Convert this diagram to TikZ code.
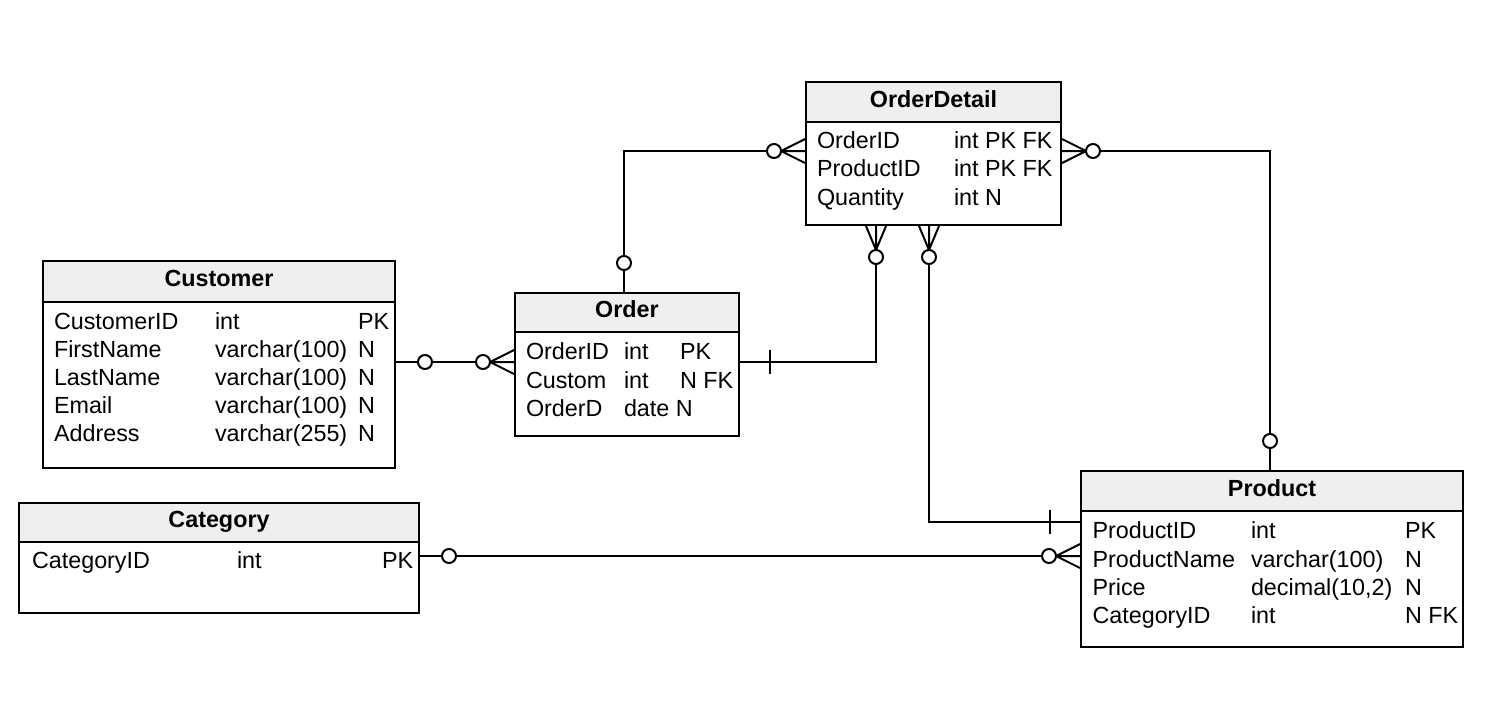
\documentclass[tikz,border=0pt]{standalone}
\usepackage{fontspec}
\setmainfont{Liberation Sans}
\usetikzlibrary{fit,calc}
\definecolor{hdr}{HTML}{EFEFEF}
\begin{document}
\begin{tikzpicture}[x=0.75pt,y=-0.75pt,line width=1.5pt,
  tbl/.style={draw,inner sep=0pt,line width=1.5pt},
  hd/.style={draw,fill=hdr,inner sep=0pt,line width=1.5pt},
  ttl/.style={font=\fontsize{17.5}{21}\selectfont\bfseries,inner sep=0pt,text height=12.5pt,text depth=0pt,yshift=2.2pt},
  fld/.style={font=\fontsize{17.5}{21}\selectfont,inner sep=0pt,text height=12.5pt,text depth=0pt,anchor=west},
  crowo/.pic={\draw (24,0) -- (0,-12) (24,0) -- (0,0) (24,0) -- (0,12);
              \draw[fill=white] (31,0) circle[radius=7];},
  crowv/.pic={\draw (24,0) -- (0,-10) (24,0) -- (0,0) (24,0) -- (0,10);
              \draw[fill=white] (31,0) circle[radius=7];},
  circo/.pic={\draw[fill=white] (29,0) circle[radius=7];},
  tickmark/.pic={\draw (30,-12) -- (30,12);}]
\useasboundingbox (0,0) rectangle (1494,718);
\fill[white] (0,0) rectangle (1494,718);

% Customer
\node[tbl,fit={(43,261)(395,468)}] (cust) {};
\node[hd,fit={(43,261)(395,302)}] (custh) {};
\node[ttl] (custt) at (custh.center) {Customer};
\node[fld] (c1a) at (53,321.5) {CustomerID};
\node[fld] (c1b) at (214,321.5) {int};
\node[fld] (c1c) at (357,321.5) {PK};
\node[fld] (c2a) at (53,349.5) {FirstName};
\node[fld] (c2b) at (214,349.5) {varchar(100)};
\node[fld] (c2c) at (357,349.5) {N};
\node[fld] (c3a) at (53,377.5) {LastName};
\node[fld] (c3b) at (214,377.5) {varchar(100)};
\node[fld] (c3c) at (357,377.5) {N};
\node[fld] (c4a) at (53,405.5) {Email};
\node[fld] (c4b) at (214,405.5) {varchar(100)};
\node[fld] (c4c) at (357,405.5) {N};
\node[fld] (c5a) at (53,433.5) {Address};
\node[fld] (c5b) at (214,433.5) {varchar(255)};
\node[fld] (c5c) at (357,433.5) {N};

% Order
\node[tbl,fit={(515,293)(739,436)}] (ord) {};
\node[hd,fit={(515,293)(739,332)}] (ordh) {};
\node[ttl] (ordt) at (ordh.center) {Order};
\node[fld] (o1a) at (525,351.5) {OrderID};
\node[fld] (o1b) at (623,351.5) {int};
\node[fld] (o1c) at (679,351.5) {PK};
\node[fld] (o2a) at (525,380) {Custom};
\node[fld] (o2b) at (623,380) {int};
\node[fld] (o2c) at (679,380) {N FK};
\node[fld] (o3a) at (525,408.5) {OrderD};
\node[fld] (o3b) at (623,408.5) {date N};

% OrderDetail
\node[tbl,fit={(806,82)(1061,225)}] (od) {};
\node[hd,fit={(806,82)(1061,121.5)}] (odh) {};
\node[ttl] (odt) at (odh.center) {OrderDetail};
\node[fld] (d1a) at (816,140.5) {OrderID};
\node[fld] (d1b) at (953,140.5) {int PK FK};
\node[fld] (d2a) at (816,168.5) {ProductID};
\node[fld] (d2b) at (953,168.5) {int PK FK};
\node[fld] (d3a) at (816,197) {Quantity};
\node[fld] (d3b) at (953,197) {int N};

% Category
\node[tbl,fit={(19,503)(419,613)}] (cat) {};
\node[hd,fit={(19,503)(419,542)}] (cath) {};
\node[ttl] (catt) at (cath.center) {Category};
\node[fld] (k1a) at (31,560) {CategoryID};
\node[fld] (k1b) at (236,560) {int};
\node[fld] (k1c) at (381,560) {PK};

% Product
\node[tbl,fit={(1081,471)(1463,646.5)}] (prod) {};
\node[hd,fit={(1081,471)(1463,511)}] (prodh) {};
\node[ttl] (prodt) at (prodh.center) {Product};
\node[fld] (p1a) at (1091.5,530.5) {ProductID};
\node[fld] (p1b) at (1250,530.5) {int};
\node[fld] (p1c) at (1404,530.5) {PK};
\node[fld] (p2a) at (1091.5,559) {ProductName};
\node[fld] (p2b) at (1250,559) {varchar(100)};
\node[fld] (p2c) at (1404,559) {N};
\node[fld] (p3a) at (1091.5,587) {Price};
\node[fld] (p3b) at (1250,587) {decimal(10,2)};
\node[fld] (p3c) at (1404,587) {N};
\node[fld] (p4a) at (1091.5,615.5) {CategoryID};
\node[fld] (p4b) at (1250,615.5) {int};
\node[fld] (p4c) at (1404,615.5) {N FK};

% connector endpoints on the table edges
\coordinate (e1) at ($(cust.north east)+(0,102)$);
\coordinate (e2) at ($(ord.north west)+(0,70)$);
\coordinate (e3) at ($(ord.north west)+(110,0)$);
\coordinate (e4) at ($(od.north west)+(0,70)$);
\coordinate (e5) at ($(ord.north east)+(0,70)$);
\coordinate (e6) at ($(od.south west)+(71,0)$);
\coordinate (e7) at ($(od.north east)+(0,70)$);
\coordinate (e8) at ($(prod.north west)+(190,0)$);
\coordinate (e9) at ($(od.south west)+(124,0)$);
\coordinate (e10) at ($(prod.north west)+(0,52)$);
\coordinate (e11) at ($(cat.north east)+(0,54)$);
\coordinate (e12) at ($(prod.north west)+(0,86)$);

% connectors
\draw (e1) -- (e2);
\draw (e3) |- (e4);
\draw (e5) -| (e6);
\draw (e7) -| (e8);
\draw (e9) |- (e10);
\draw (e11) -- (e12);

% end marks
\pic at (e1) {circo};
\pic[rotate=180] at (e2) {crowo};
\pic[rotate=90] at (e3) {circo};
\pic[rotate=180] at (e4) {crowo};
\pic at (e5) {tickmark};
\pic[rotate=-90] at (e6) {crowv};
\pic at (e7) {crowo};
\pic[rotate=90] at (e8) {circo};
\pic[rotate=-90] at (e9) {crowv};
\pic[rotate=180] at (e10) {tickmark};
\pic at (e11) {circo};
\pic[rotate=180] at (e12) {crowo};
\end{tikzpicture}
\end{document}
